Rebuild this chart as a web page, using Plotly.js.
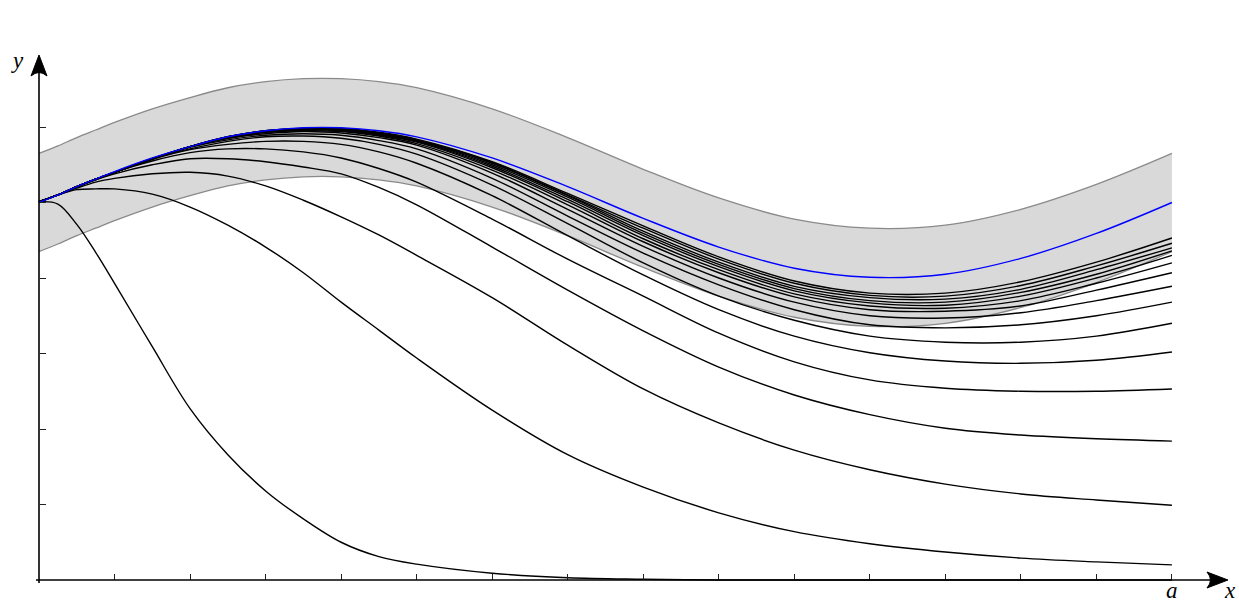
<!DOCTYPE html>
<html><head><meta charset="utf-8">
<script src="https://cdn.plot.ly/plotly-3.0.1.min.js"></script>
<style>html,body{margin:0;padding:0;background:#fff;overflow:hidden;} #chart{width:1239px;height:605px;}</style>
</head><body><div id="chart"></div>
<script>
// sample abscissae (x from 0 to a = 15)
const xs = [0, 0.25, 0.5, 0.75, 1, 1.5, 2, 2.5, 3, 3.5, 4, 4.5, 5, 6, 7, 8, 9, 10, 11, 12, 13, 14, 15];

// limit function (blue)
const limitCurve = [5.00, 5.10, 5.21, 5.31, 5.41, 5.59, 5.74, 5.87, 5.95, 5.99, 5.99, 5.95, 5.87, 5.59, 5.21, 4.79, 4.41, 4.13, 4.01, 4.05, 4.26, 4.59, 5.00];
// epsilon band edges
const upperBand = [5.65, 5.75, 5.86, 5.96, 6.06, 6.24, 6.39, 6.52, 6.60, 6.64, 6.64, 6.60, 6.52, 6.24, 5.86, 5.44, 5.06, 4.78, 4.66, 4.70, 4.91, 5.24, 5.65];
const lowerBand = [4.35, 4.45, 4.56, 4.66, 4.76, 4.94, 5.09, 5.22, 5.30, 5.34, 5.34, 5.30, 5.22, 4.94, 4.56, 4.14, 3.76, 3.48, 3.36, 3.40, 3.61, 3.94, 4.35];

// sequence of functions (black)
const f1  = [5.01, 4.98, 4.71, 4.34, 3.93, 3.09, 2.27, 1.66, 1.18, 0.81, 0.50, 0.31, 0.21, 0.09, 0.03, 0.01, 0, 0, 0, 0, 0, 0, 0];
const f2  = [5.01, 5.10, 5.17, 5.18, 5.18, 5.11, 4.94, 4.70, 4.41, 4.07, 3.68, 3.31, 2.94, 2.25, 1.66, 1.23, 0.89, 0.64, 0.48, 0.37, 0.29, 0.24, 0.20];
const f3  = [5.01, 5.10, 5.19, 5.27, 5.32, 5.38, 5.40, 5.35, 5.22, 5.03, 4.81, 4.57, 4.30, 3.74, 3.11, 2.53, 2.08, 1.72, 1.46, 1.27, 1.14, 1.06, 0.99];
const f4  = [5.01, 5.10, 5.21, 5.30, 5.38, 5.50, 5.58, 5.58, 5.54, 5.47, 5.38, 5.20, 4.97, 4.41, 3.84, 3.30, 2.82, 2.45, 2.19, 2.01, 1.92, 1.87, 1.84];
const f5  = [5.01, 5.10, 5.21, 5.30, 5.40, 5.55, 5.66, 5.71, 5.71, 5.67, 5.59, 5.45, 5.27, 4.78, 4.25, 3.76, 3.27, 2.89, 2.65, 2.54, 2.50, 2.50, 2.53];
const f6  = [5.01, 5.10, 5.21, 5.31, 5.40, 5.57, 5.70, 5.77, 5.81, 5.81, 5.77, 5.67, 5.52, 5.09, 4.56, 4.04, 3.58, 3.23, 3.01, 2.90, 2.87, 2.91, 3.02];
const f7  = [5.01, 5.10, 5.21, 5.31, 5.40, 5.58, 5.71, 5.81, 5.87, 5.88, 5.85, 5.77, 5.64, 5.23, 4.72, 4.20, 3.76, 3.44, 3.23, 3.15, 3.15, 3.23, 3.40];
const f8  = [5.01, 5.10, 5.21, 5.31, 5.40, 5.58, 5.73, 5.83, 5.89, 5.91, 5.89, 5.82, 5.71, 5.32, 4.82, 4.33, 3.91, 3.58, 3.38, 3.34, 3.38, 3.50, 3.68];
const f9  = [5.01, 5.10, 5.21, 5.31, 5.40, 5.58, 5.74, 5.85, 5.91, 5.94, 5.92, 5.86, 5.76, 5.39, 4.91, 4.42, 4.00, 3.68, 3.50, 3.47, 3.54, 3.70, 3.89];
const f10 = [5.01, 5.10, 5.21, 5.31, 5.40, 5.58, 5.74, 5.85, 5.93, 5.95, 5.94, 5.88, 5.78, 5.43, 4.97, 4.48, 4.07, 3.75, 3.58, 3.56, 3.63, 3.84, 4.07];
const f11 = [5.01, 5.10, 5.21, 5.31, 5.40, 5.58, 5.74, 5.86, 5.93, 5.96, 5.95, 5.89, 5.80, 5.46, 5.01, 4.52, 4.11, 3.79, 3.63, 3.60, 3.70, 3.93, 4.20];
const f12 = [5.01, 5.10, 5.21, 5.31, 5.40, 5.58, 5.74, 5.86, 5.94, 5.97, 5.96, 5.90, 5.81, 5.48, 5.04, 4.56, 4.15, 3.83, 3.67, 3.64, 3.76, 4.00, 4.30];
const f13 = [5.01, 5.10, 5.21, 5.31, 5.40, 5.58, 5.74, 5.86, 5.94, 5.97, 5.96, 5.91, 5.82, 5.50, 5.07, 4.59, 4.18, 3.86, 3.70, 3.68, 3.81, 4.05, 4.36];
const f14 = [5.01, 5.10, 5.21, 5.31, 5.40, 5.58, 5.74, 5.87, 5.95, 5.97, 5.97, 5.91, 5.82, 5.52, 5.09, 4.62, 4.21, 3.89, 3.74, 3.72, 3.85, 4.11, 4.40];
const f15 = [5.01, 5.10, 5.21, 5.31, 5.40, 5.58, 5.74, 5.87, 5.95, 5.98, 5.97, 5.92, 5.83, 5.53, 5.10, 4.66, 4.25, 3.93, 3.77, 3.76, 3.90, 4.16, 4.46];
const f16 = [5.01, 5.10, 5.21, 5.31, 5.40, 5.58, 5.74, 5.87, 5.95, 5.98, 5.98, 5.93, 5.84, 5.54, 5.12, 4.69, 4.28, 3.96, 3.80, 3.80, 3.95, 4.21, 4.53];
const sequence = [f1, f2, f3, f4, f5, f6, f7, f8, f9, f10, f11, f12, f13, f14, f15, f16];

// ticks
const xTicks = [1, 2, 3, 4, 5, 6, 7, 8, 9, 10, 11, 12, 13, 14, 15];
const yTicks = [1, 2, 3, 4, 5, 6];
const xEnd = 15.742;   // arrow tip of x axis
const yEnd = 6.954;    // arrow tip of y axis

const traces = [];
traces.push({x: xs, y: lowerBand, mode: 'lines', line: {color: '#8a8a8a', width: 1.3, shape: 'spline'}, hoverinfo: 'skip', showlegend: false});
traces.push({x: xs, y: upperBand, mode: 'lines', fill: 'tonexty', fillcolor: '#d9d9d9', line: {color: '#8a8a8a', width: 1.3, shape: 'spline'}, hoverinfo: 'skip', showlegend: false});
sequence.forEach(f => traces.push({x: xs, y: f, mode: 'lines', line: {color: '#000', width: 1.4, shape: 'spline'}, hoverinfo: 'skip', showlegend: false}));
traces.push({x: xs, y: limitCurve, mode: 'lines', line: {color: '#0000ff', width: 1.4, shape: 'spline'}, hoverinfo: 'skip', showlegend: false});

const labelFont = {family: 'Liberation Serif, DejaVu Serif, serif', size: 23, color: '#000'};

const layout = {
  width: 1239, height: 605,
  margin: {l: 0, r: 0, t: 0, b: 0},
  paper_bgcolor: '#fff', plot_bgcolor: '#fff',
  showlegend: false,
  xaxis: {range: [-0.5164, 15.888], anchor: 'free', position: 25/605, showgrid: false, zeroline: false, showline: false,
          ticks: 'inside', ticklen: 6, tickwidth: 1, tickcolor: '#222', tickvals: xTicks, showticklabels: false, fixedrange: true},
  yaxis: {range: [-0.3311, 7.6821], anchor: 'free', position: 39/1239, showgrid: false, zeroline: false, showline: false,
          ticks: 'inside', ticklen: 6, tickwidth: 1, tickcolor: '#222', tickvals: yTicks, showticklabels: false, fixedrange: true},
  shapes: [
    {type: 'line', xref: 'x', yref: 'y', x0: -0.04, y0: 0, x1: xEnd - 0.15, y1: 0, line: {color: '#000', width: 1.6}},
    {type: 'line', xref: 'x', yref: 'y', x0: 0, y0: -0.04, x1: 0, y1: yEnd - 0.15, line: {color: '#000', width: 1.6}},
    {type: 'path', xref: 'x', yref: 'y', xsizemode: 'pixel', ysizemode: 'pixel', xanchor: xEnd, yanchor: 0,
     path: 'M0,0 L-21,8 Q-14,0 -21,-8 Z', fillcolor: '#000', line: {color: '#000', width: 1}},
    {type: 'path', xref: 'x', yref: 'y', xsizemode: 'pixel', ysizemode: 'pixel', xanchor: 0, yanchor: yEnd,
     path: 'M0,0 L-8,-21 Q0,-14 8,-21 Z', fillcolor: '#000', line: {color: '#000', width: 1}}
  ],
  annotations: [
    {xref: 'x', yref: 'y', x: 15, y: -0.318, text: '<i>a</i>', showarrow: false, font: labelFont, xanchor: 'center', yanchor: 'bottom', borderpad: 0},
    {xref: 'x', yref: 'y', x: 15.77, y: -0.318, text: '<i>x</i>', showarrow: false, font: labelFont, xanchor: 'center', yanchor: 'bottom', borderpad: 0},
    {xref: 'x', yref: 'y', x: -0.29, y: 6.88, text: '<i>y</i>', showarrow: false, font: labelFont, xanchor: 'center', yanchor: 'middle'}
  ]
};

Plotly.newPlot('chart', traces, layout, {displayModeBar: false, staticPlot: true});
</script>
</body></html>
